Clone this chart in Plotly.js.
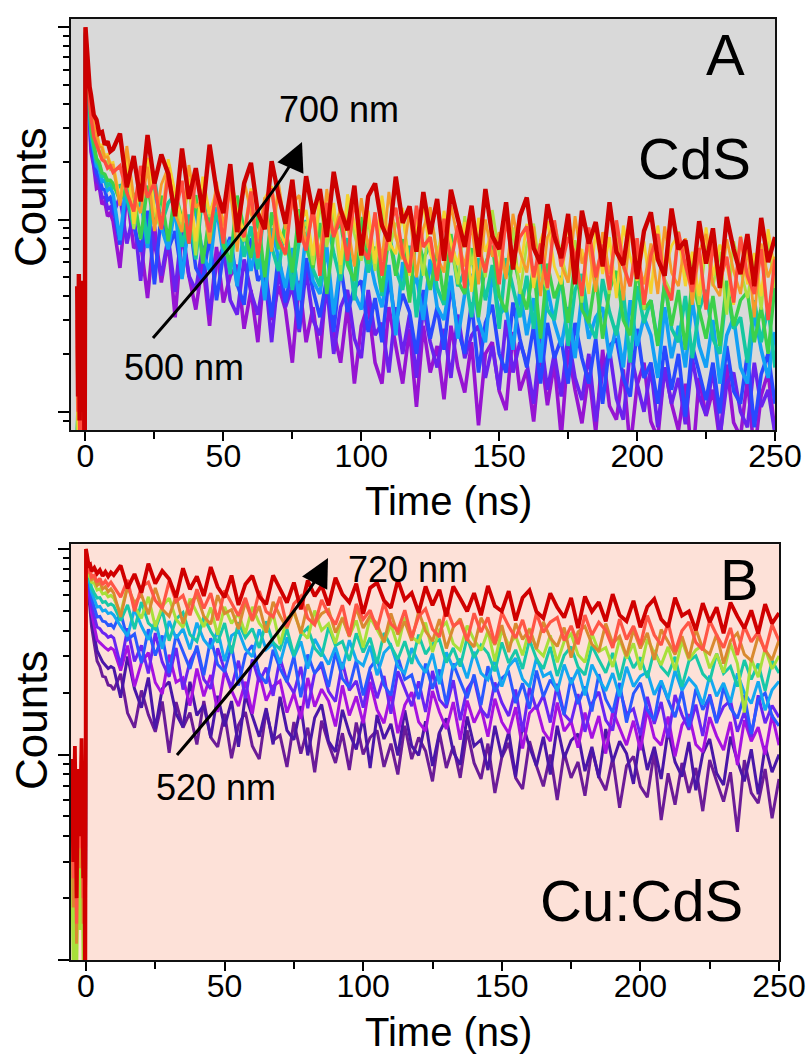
<!DOCTYPE html>
<html><head><meta charset="utf-8">
<script src="https://cdn.plot.ly/plotly-3.0.1.min.js"></script>
<style>html,body{margin:0;padding:0;background:#fff;}#chart{width:812px;height:1059px;}</style>
</head><body><div id="chart"></div>
<script>
// ---------- time axes (ns) ----------
const tPreA = [-3,-2.7,-2.4,-2.1,-1.8,-1.5,-1.2,-0.9,-0.6,-0.3];
const tPreB = [-5.2,-4.6,-4.0,-3.4,-2.8,-2.2,-1.6,-1.0,-0.6,-0.3];
const tEarly = [0,0.5,1,1.5,2,3,4,5,6,7,8,9,10];
const tMain = [12.5,15,17.5,20,22.5,25,27.5,30,32.5,35,37.5,40,42.5,45,47.5,50,52.5,55,57.5,60,62.5,65,67.5,70,72.5,75,77.5,80,82.5,85,87.5,90,92.5,95,97.5,100,102.5,105,107.5,110,112.5,115,117.5,120,122.5,125,127.5,130,132.5,135,137.5,140,142.5,145,147.5,150,152.5,155,157.5,160,162.5,165,167.5,170,172.5,175,177.5,180,182.5,185,187.5,190,192.5,195,197.5,200,202.5,205,207.5,210,212.5,215,217.5,220,222.5,225,227.5,230,232.5,235,237.5,240,242.5,245,247.5,250];

// ---------- panel A : CdS, 500-700 nm (counts) ----------
const wavelengthsA = [500,520,540,560,580,600,620,640,660,680,700];
const a500 = [6,9,4,8,5,10,3,7,4,1.5, 900,640,400,320,225,190,145,148,120,124,104,108,98,
56,138,71,77,39,92,47,77,31,85,51,34,60,28,72,37,51,58,27,43,23,59,30,45,34,18,48,23,35,19,50,26,18,36,14,28,36,18,14,35,22,14,27,10.6,28,16,22,11.6,28,17,12.6,23,8.5,20,23,12.8,10.2,26,12.9,16.5,8.9,21,10.8,18,7.4,21,13,8.7,16,7.8,21,10.7,9.1,16.6,6.4,13.8,18,8.9,7.3,17,11,8,14,5.3,15,9.5,13,7,17.6,8.8,7.4,14.9,6,12.2,16,7.8];
const a520 = [4,7,3,6,5,8,3,6,4,1.5, 910,660,420,335,240,198,160,152,130,130,114,116,106,
132,75,108,48,109,75,51,81,42,93,51,43,73,32,59,72,38,32,62,42,32,53,23,54,35,45,26,55,30,25,44,20,35,43,24,19,43,25,29,16,35,20,32,15,35,23,17,27,15,32,19,25,28,15,22,13,30,16,23,18,11,25,13,20,12,25,15,11.5,20,8.9,16,21,11.7,9.1,21,14,10,17,8.3,17,11,15,8.6,19,12,9.6,17,7.3,14,16,10,8.3,18,10.6,13,7.7];
const a540 = [5,8,4,7,5,9,4,7,5,2, 920,680,440,350,255,210,175,165,145,142,126,130,117,
74,143,93,68,111,46,109,70,87,50,105,56,48,82,38,66,81,46,36,80,48,54,31,66,37,57,27,63,43,31,50,26,58,33,44,48,26,39,23,50,29,41,33,20,43,24,35,21,46,27,20,37,16,29,36,20,16,37,24,17,28,14,29,19,24,14,29,19,14,24,11,22,24,15,12,27,15,18,11,22,13,20,9.4,22,16,11.5,18,9.8,22,12.8,11,20,8.3,15.7,20,11];
const a560 = [6,9,5,8,6,10,4,8,5,2, 930,690,460,370,275,230,190,182,158,160,142,146,136,
78,164,100,129,71,149,91,70,116,49,98,111,66,54,116,65,78,45,90,54,81,38,90,63,44,71,38,86,48,41,72,32,60,75,41,34,68,46,35,58,25,60,40,51,30,62,35,30,51,24,41,52,30,23,53,32,35,21,43,25,39,18,44,29,22,35,19,41,24,31,35,19,28,17,38,22,31,25,15,35,19,28,17,38,22,17,30,14,25,31,17,14,33,21,15,26];
const a580 = [7,10,6,9,7,11,5,9,6,2, 940,700,480,385,290,240,200,192,168,168,150,154,146,
150,129,91,144,75,164,94,122,135,72,106,62,138,77,109,87,52,116,64,92,55,122,72,54,97,43,78,99,55,45,101,67,48,80,38,83,53,70,40,86,55,43,73,31,63,73,44,36,78,45,54,31,63,38,58,27,63,44,31,51,27,61,34,30,51,22,43,52,29,24,49,33,25,42,18,45,29,38,23,47,27,23,40,19,34,43,24,20,44,27,31,18,38,23,35,17];
const a600 = [8,11,6,10,7,12,6,9,7,2, 950,710,490,395,300,248,208,198,175,172,160,160,154,
125,150,135,79,150,94,133,77,140,100,75,134,59,106,134,73,60,133,89,63,106,50,109,70,93,53,113,72,56,96,41,84,96,58,48,103,59,72,42,85,51,79,37,87,61,43,70,38,84,48,41,71,31,59,73,40,33,66,45,34,57,24,59,39,49,29,62,34,29,51,24,43,54,30,25,55,34,38,22,47,28,43,21,49,34,24,40,22,48,28,38,42,23,35,20,46];
const a620 = [12,7,16,6,13,8,15,6,10,2, 960,720,550,425,370,285,265,228,226,200,200,182,185,
122,206,89,162,199,107,89,177,120,91,152,65,156,103,131,77,166,91,77,136,64,113,140,81,65,144,87,97,58,122,72,110,52,124,84,61,101,54,120,69,94,106,58,86,51,114,66,95,76,46,104,58,84,50,112,66,50,91,41,74,95,52,43,97,65,47,78,37,83,53,71,41,89,56,45,77,34,68,80,49,41,87,50,61,36,73,45,68,32,77,54,39,63,34,77,44];
const a640 = [18,8,24,6,17,9,22,6,14,2, 980,740,580,455,400,310,290,245,244,215,218,196,198,
125,218,95,166,209,114,93,206,138,97,163,77,167,107,142,80,174,109,86,145,63,129,149,90,74,161,92,112,65,133,80,122,58,135,95,68,111,59,133,77,66,115,51,95,120,66,55,111,76,58,97,42,102,68,88,53,112,62,53,95,44,78,98,57,46,103,63,70,41,88,52,81,39,93,64,48,77,41,93,54,73,83,45,68,40,91,51,74,59,36,82,46,67,40,89,53];
const a660 = [22,9,28,7,20,10,26,7,16,2.5, 970,735,570,450,390,305,282,240,236,210,212,192,192,
118,241,130,108,188,87,152,187,107,86,192,115,128,75,157,93,143,68,160,108,79,130,68,154,89,120,134,73,108,64,144,82,116,94,57,129,71,104,61,139,81,62,112,50,90,116,64,53,119,79,57,95,46,100,64,86,49,107,68,53,92,40,81,95,58,47,104,59,73,42,86,52,80,38,89,64,46,75,41,92,53,45,80,36,68,84,46,40,79,54,41,71,31,75,50,64];
const a680 = [30,10,40,8,30,14,38,8,22,2.5, 1000,700,520,410,340,270,245,225,205,200,185,190,176,
190,138,110,190,130,156,89,177,106,159,75,174,122,86,139,75,167,94,81,140,63,116,145,79,66,134,90,69,117,51,122,81,104,61,130,72,62,109,51,90,115,66,53,118,72,81,48,101,60,93,44,106,72,53,87,46,103,60,81,92,50,75,44,99,57,81,66,40,91,50,74,43,99,58,45,80,36,65,84,46,38,86,58,42,71,34,75,48,64,37,81,51,41,70,30,62];
const a700 = [45,12,52,9,40,20,48,10,35,3, 1000,770,610,490,445,350,330,280,285,245,255,226,232,
280,147,214,124,275,154,218,173,104,234,128,185,109,245,142,108,194,86,154,197,108,89,201,134,95,161,76,168,107,144,81,177,112,88,150,65,132,154,93,77,167,96,117,68,139,84,128,61,143,101,72,118,64,144,82,70,123,55,104,130,71,59,120,82,63,107,46,111,75,97,57,123,68,58,104,49,87,109,62,51,114,70,78,46,98,59,90,44,103,70,52,84,45,102,60,81];

// ---------- panel B : Cu:CdS, 520-720 nm (counts) ----------
const wavelengthsB = [520,540,560,580,600,620,640,660,680,700,720];
const b520 = [6,3,7,2,5,4,8,3,5,1.5, 1000,750,590,500,420,345,285,268,240,238,218,216,206,
247,159,135,205,156,129,181,102,180,135,160,112,182,121,109,158,96,139,161,110,95,163,117,124,87,144,101,135,82,146,113,91,127,84,143,100,121,131,87,113,80,138,95,121,104,74,128,86,110,77,131,91,76,113,65,97,114,77,68,116,88,70,100,60,102,77,92,63,106,78,67,96,55,88,98,70,62,103,48,81,57,91,65,86,53,94,74,59,82,42,94,65,58,85,49,76];
const b540 = [5,3,6,2,5,3,7,2,4,1.5, 1000,760,620,530,460,380,320,300,282,272,262,268,263,
189,300,209,169,237,133,209,226,158,136,226,155,174,121,193,137,182,109,194,153,122,168,112,191,131,118,172,99,151,175,116,103,165,127,106,152,86,156,119,141,99,164,110,99,145,88,128,150,103,89,153,110,118,84,138,97,129,78,141,109,88,122,80,138,96,117,126,83,109,77,133,92,116,101,72,125,84,109,76,132,92,78,115,67,101,119,81,71,122,93,74,106,64,110,82,100];
const b560 = [6,3,7,2,5,4,8,3,5,1.5, 1000,770,640,560,490,420,362,350,338,330,322,330,323,
256,339,214,280,313,224,197,306,225,236,173,262,192,244,161,257,205,172,226,158,249,183,215,228,160,199,149,236,171,208,182,137,217,155,192,142,226,165,142,199,127,174,201,144,130,204,161,133,180,118,183,143,168,122,187,144,127,170,107,159,173,130,116,179,130,145,108,160,120,154,101,163,134,111,146,105,166,121,111,153,98,139,157,112,103,152,123,105,144,89,147,116,136,100,156,111];
const b580 = [5,2,6,3,4,3,7,2,4,1.5, 1000,780,660,590,530,470,417,410,392,385,372,378,369,
270,411,284,340,248,390,282,239,330,207,284,327,232,209,329,258,212,286,188,290,226,265,193,295,227,199,267,168,250,270,203,181,282,205,228,169,253,188,241,158,254,209,172,227,161,255,185,169,230,147,208,234,166,151,224,179,154,207,129,212,166,194,143,221,157,144,197,129,177,202,147,131,209,157,167,124,191,141,180,121,195,156,132,175,123,196,144,171,183,129,161,122,194,142,173,152];
const b600 = [6,3,7,2,5,4,8,3,5,1.5, 1000,800,680,640,580,520,467,470,445,442,425,430,413,
491,362,386,278,407,303,379,249,384,319,261,339,243,368,274,253,338,217,306,340,247,222,323,262,225,301,190,307,247,282,213,315,234,212,287,194,264,294,218,194,299,232,244,186,277,209,259,175,277,227,188,245,174,269,202,235,251,178,222,167,256,191,231,205,156,237,176,214,162,246,186,160,223,143,198,223,165,147,226,184,152,204,136,209,165,192,142,213,168,150,195,126,185,199,154,138];
const b620 = [7,3,8,3,6,4,9,3,6,1.5, 1000,810,700,680,620,570,522,525,500,505,485,490,477,
421,377,510,422,362,447,327,446,368,409,325,438,362,328,402,285,379,400,326,299,406,324,347,277,371,298,355,262,365,317,274,334,260,360,288,271,338,243,313,340,268,249,329,280,250,310,220,314,263,292,235,316,249,231,289,214,269,294,233,213,295,240,251,203,274,221,260,194,274,234,204,249,192,267,214,241,252,195,229,186,256,205,235,215,175,242,192,223,179,248,200,177,227,164,206,227];
const b640 = [8,4,9,3,7,5,9,4,7,2, 1000,820,720,700,650,610,577,580,550,555,532,540,529,
448,535,408,552,436,407,503,358,456,491,384,355,467,397,351,436,310,440,371,410,330,445,351,325,408,303,381,414,329,301,417,339,355,286,389,314,370,276,390,334,291,356,276,383,308,346,363,280,330,268,371,296,341,311,254,351,279,323,261,362,292,261,334,241,304,335,267,244,339,289,250,312,230,317,264,297,236,321,267,244,299,214,285,302,247,227,310,248,268,214,288,232,277,204,286,249];
const b660 = [35,9,45,8,30,14,50,9,25,3, 1000,830,740,730,690,680,632,640,605,612,585,595,577,
486,664,525,460,586,419,526,577,455,415,573,485,418,519,382,523,435,487,387,523,435,395,484,344,460,488,399,367,502,402,433,347,466,377,449,332,465,406,351,430,336,466,373,352,439,315,405,440,346,321,424,361,321,399,284,404,341,377,304,412,326,302,380,281,355,386,306,281,388,317,331,267,364,294,347,258,365,313,273,334,257,357,289,323,339,263,309,250,347,277,160,292,238,328,261,302];
const b680 = [60,18,75,12,55,28,80,15,45,3, 1000,840,760,770,710,720,665,685,640,655,620,640,610,
467,657,547,599,481,647,509,471,589,434,546,594,470,431,596,485,507,408,554,447,527,392,553,472,412,504,388,538,433,485,508,392,461,374,517,413,474,432,352,486,384,444,358,496,399,356,456,328,416,458,364,334,463,395,342,426,315,435,363,407,326,442,369,336,415,296,395,420,344,317,434,348,376,301,405,328,391,289,406,354,307,376,294,408,326,308,385,277,358,390,307,286,377,323,288,360];
const b700 = [80,25,95,15,70,35,100,20,60,3, 1000,850,770,790,730,745,690,720,670,700,665,690,660,
583,707,498,655,690,562,513,697,555,594,476,637,514,610,450,629,548,473,578,451,624,497,468,585,420,541,588,461,428,565,482,429,533,379,540,455,504,406,548,432,401,504,372,469,512,407,374,518,423,443,358,487,394,465,347,491,421,369,452,349,486,393,441,464,359,423,344,477,382,440,403,330,456,363,422,341,474,382,341,438,316,400,441,351,323,448,382,331,413,305,421,353,395,316,429,358];
const b720 = [95,30,110,20,85,40,120,25,70,3, 1000,900,830,840,780,810,760,790,740,775,735,770,747,
832,643,756,613,849,679,783,714,582,806,637,736,591,817,654,581,743,534,674,741,587,538,744,632,549,687,509,703,590,665,532,725,603,551,678,484,647,686,562,517,706,566,611,490,657,532,634,470,658,575,498,610,476,661,528,498,624,449,579,630,496,461,609,520,464,578,412,588,496,551,445,603,477,445,560,416,524,572,455,418,580,474,497,402,545,441,521,389,549,470,411,503,388,539,434,488];

// ---------- ticks ----------
const xTickVals = [0,50,100,150,200,250];
const xMinorVals = [25,75,125,175,225];
const yMajorVals = [10,100,1000];
const yMinorVals = [8,9,20,30,40,50,60,70,80,90,200,300,400,500,600,700,800,900];

// ---------- styles ----------
const colorsA = ['#9614d2','#6a22ee','#2848ff','#12a0f5','#14c8a0','#3cd04a','#aee040','#f4d22e','#f59a2a','#ff4d3d','#cc0000'];
const colorsB = ['#6b1c98','#4a16a8','#a612e0','#6a24f2','#2a58ff','#14a8f0','#18c8a8','#a8e03a','#d98a30','#ff5545','#d00000'];
const widthsA = [3.6,3.6,3.6,3.6,3.6,3.4,2.8,2.8,2.8,3.4,4.4];
const widthsB = [3,3,3,3,3,3,3,3,3,3.2,3.8];

const timeA = tPreA.concat(tEarly, tMain);
const timeB = tPreB.concat(tEarly, tMain);
const countsA = [a500,a520,a540,a560,a580,a600,a620,a640,a660,a680,a700];
const countsB = [b520,b540,b560,b580,b600,b620,b640,b660,b680,b700,b720];

const traces = [];
countsA.forEach((ys, i) => traces.push({
  type: 'scatter', mode: 'lines', x: timeA, y: ys, xaxis: 'x', yaxis: 'y',
  name: wavelengthsA[i] + ' nm', line: {color: colorsA[i], width: widthsA[i]}, showlegend: false, hoverinfo: 'skip'
}));
countsB.forEach((ys, i) => traces.push({
  type: 'scatter', mode: 'lines', x: timeB, y: ys, xaxis: 'x2', yaxis: 'y2',
  name: wavelengthsB[i] + ' nm', line: {color: colorsB[i], width: widthsB[i]}, showlegend: false, hoverinfo: 'skip'
}));

const FONT = 'Liberation Sans, Arial, Helvetica, sans-serif';
function xAxis(domain, range, anchor) {
  return {
    domain: domain, range: range, anchor: anchor,
    tickmode: 'array', tickvals: xTickVals, ticks: 'outside', ticklen: 9, tickwidth: 2, tickcolor: '#000',
    minor: {tickmode: 'array', tickvals: xMinorVals, ticks: 'outside', ticklen: 7, tickwidth: 2, tickcolor: '#000', showgrid: false},
    showline: true, linecolor: '#111', linewidth: 2, mirror: true, showgrid: false, zeroline: false,
    tickfont: {family: FONT, size: 32, color: '#000'}, ticklabelstandoff: -12
  };
}
function yAxis(domain, range, anchor) {
  return {
    type: 'log', domain: domain, range: range, anchor: anchor,
    tickmode: 'array', tickvals: yMajorVals, showticklabels: false,
    ticks: 'outside', ticklen: 11, tickwidth: 2, tickcolor: '#000',
    minor: {tickmode: 'array', tickvals: yMinorVals, ticks: 'outside', ticklen: 6, tickwidth: 2, tickcolor: '#000', showgrid: false},
    showline: true, linecolor: '#111', linewidth: 2, mirror: true, showgrid: false, zeroline: false
  };
}

const W = 812, H = 1059;
const px = v => v / W, py = v => 1 - v / H;

function label(text, x, y, size, angle) {
  return {text: text, x: px(x), y: py(y), xref: 'paper', yref: 'paper', showarrow: false, textangle: angle || 0,
    xanchor: 'center', yanchor: 'middle', font: {family: FONT, size: size, color: '#000'}};
}
function head(x, y, ax, ay) {
  return {text: '', x: px(x), y: py(y), xref: 'paper', yref: 'paper', showarrow: true,
    ax: ax, ay: ay, arrowhead: 2, arrowsize: 1.9, arrowwidth: 3, arrowcolor: '#000', standoff: 0};
}

const layout = {
  width: W, height: H, margin: {l: 0, r: 0, t: 0, b: 0},
  paper_bgcolor: '#ffffff', plot_bgcolor: 'rgba(0,0,0,0)',
  xaxis: xAxis([71/W, 775/W], [-5.25, 250], 'y'),
  yaxis: yAxis([1 - 430/H, 1 - 19/H], [0.905, 3.043], 'x'),
  xaxis2: xAxis([71/W, 779/W], [-5.41, 250], 'y2'),
  yaxis2: yAxis([1 - 960/H, 1 - 544.3/H], [1, 3.023], 'x2'),
  shapes: [
    {type: 'rect', xref: 'x domain', yref: 'y domain', x0: 0, x1: 1, y0: 0, y1: 1, fillcolor: '#d9d9d9', line: {width: 0}, layer: 'below'},
    {type: 'rect', xref: 'x2 domain', yref: 'y2 domain', x0: 0, x1: 1, y0: 0, y1: 1, fillcolor: '#fde1d8', line: {width: 0}, layer: 'below'},
    {type: 'path', xref: 'paper', yref: 'paper', line: {color: '#000', width: 3},
     path: 'M ' + px(153) + ',' + py(338) + ' Q ' + px(278) + ',' + py(195) + ' ' + px(300) + ',' + py(147)},
    {type: 'path', xref: 'paper', yref: 'paper', line: {color: '#000', width: 3},
     path: 'M ' + px(177) + ',' + py(755) + ' Q ' + px(300) + ',' + py(611) + ' ' + px(326) + ',' + py(563)}
  ],
  annotations: [
    label('A', 725, 55, 58),
    label('CdS', 694, 159, 58),
    label('700 nm', 339, 109, 36),
    label('500 nm', 184, 367, 36),
    label('B', 739, 579, 58),
    label('Cu:CdS', 641, 900, 58),
    label('720 nm', 408, 569, 36),
    label('520 nm', 216, 787, 36),
    label('Time (ns)', 448, 501, 40),
    label('Time (ns)', 448, 1032, 40),
    label('Counts', 31, 198, 44, -90),
    label('Counts', 31, 721, 44, -90),
    head(302, 142, -8, 18),
    head(328, 558, -9, 17)
  ]
};

Plotly.newPlot('chart', traces, layout, {displayModeBar: false, staticPlot: true});
</script>
</body></html>
